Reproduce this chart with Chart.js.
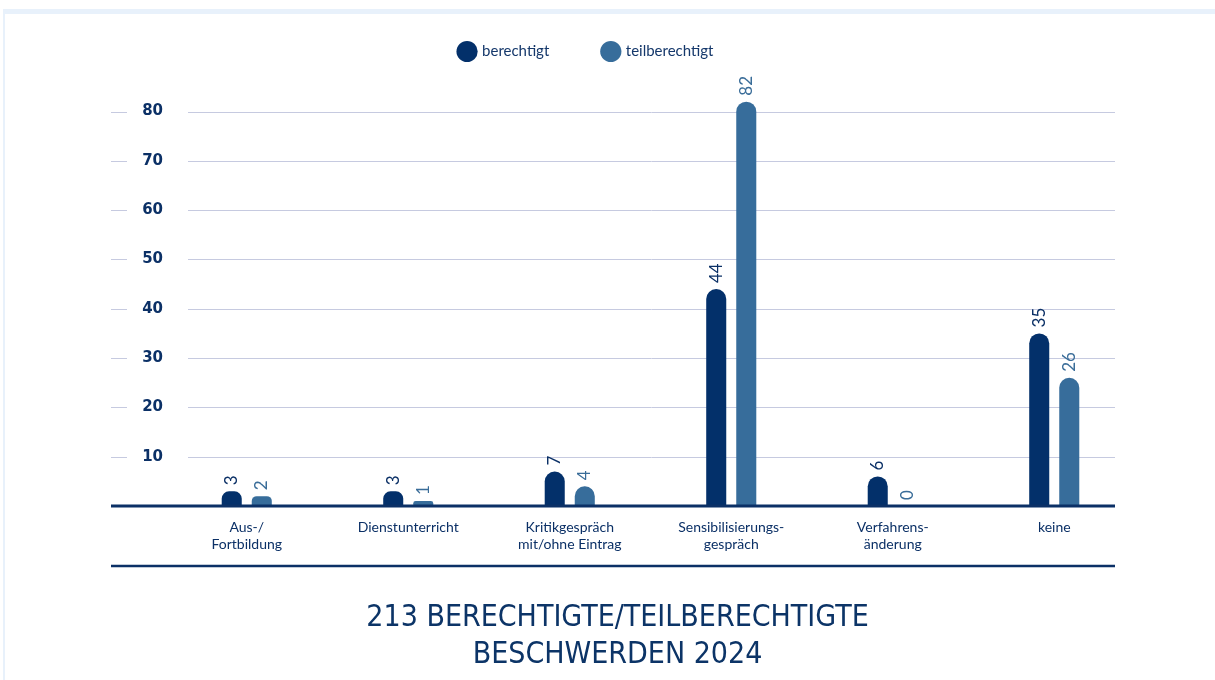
<!DOCTYPE html>
<html>
<head>
<meta charset="utf-8">
<script src="https://cdn.jsdelivr.net/npm/chart.js@4.4.1/dist/chart.umd.min.js"></script>
<style>
html, body { margin: 0; padding: 0; background: #fff; }
#wrap { position: relative; width: 1215px; height: 680px; }
#frame { position: absolute; left: 3px; top: 9px; right: 0; bottom: 0;
         border-top: 5px solid #e8f1fb; border-left: 2px solid #e8f1fb; }
canvas { position: absolute; left: 0; top: 0; }
</style>
</head>
<body>
<div id="wrap">
  <div id="frame"></div>
  <canvas id="c" width="1215" height="680"></canvas>
</div>
<script>
// data
var categories = [
    ['Aus-/', 'Fortbildung'],
    'Dienstunterricht',
    ['Kritikgespräch', 'mit/ohne Eintrag'],
    ['Sensibilisierungs-', 'gespräch'],
    ['Verfahrens-', 'änderung'],
    'keine'
];
var seriesNames = ['berechtigt', 'teilberechtigt'];
var berechtigt = [3, 3, 7, 44, 6, 35];
var teilberechtigt = [2, 1, 4, 82, 0, 26];
var yTicks = [10, 20, 30, 40, 50, 60, 70, 80];
var titleLines = ['213 BERECHTIGTE/TEILBERECHTIGTE', 'BESCHWERDEN 2024'];

var navy = '#0b3066';
var barColors = ['#03306a', '#376d9b'];
var labelColors = ['#0b3066', '#3a6d99'];

function line(ctx, x1, y1, x2, y2) {
    ctx.beginPath();
    ctx.moveTo(x1, y1);
    ctx.lineTo(x2, y2);
    ctx.stroke();
}

var decor = {
    id: 'decor',
    afterLayout: function(chart) {
        // move legend a bit left / up like the original
        var lg = chart.legend;
        lg.left -= 31; lg.right -= 31;
        lg.top -= 10; lg.bottom -= 10;
    },
    beforeDatasetsDraw: function(chart) {
        var ctx = chart.ctx, a = chart.chartArea, y = chart.scales.y;
        ctx.save();
        ctx.strokeStyle = '#c6cae0';
        ctx.lineWidth = 1;
        y.ticks.forEach(function(t) {
            var py = Math.round(y.getPixelForValue(t.value)) + 0.5;
            line(ctx, a.left + 22, py, a.right - 20, py);
            line(ctx, a.left - 55, py, a.left - 39, py);
        });
        ctx.restore();
    },
    afterDatasetsDraw: function(chart) {
        var ctx = chart.ctx, a = chart.chartArea, y = chart.scales.y;
        ctx.save();
        ctx.strokeStyle = navy;
        ctx.lineWidth = 3;
        var y0 = y.getPixelForValue(0);
        line(ctx, a.left - 55, y0, a.right - 20, y0);
        ctx.lineWidth = 2.5;
        line(ctx, a.left - 55, a.bottom + 60, a.right - 20, a.bottom + 60);

        ctx.font = '17px Lato, sans-serif';
        ctx.textAlign = 'left';
        ctx.textBaseline = 'middle';
        chart.data.datasets.forEach(function(ds, di) {
            var meta = chart.getDatasetMeta(di);
            ctx.fillStyle = labelColors[di];
            meta.data.forEach(function(bar, i) {
                ctx.save();
                ctx.translate(bar.x, bar.y - 6);
                ctx.rotate(-Math.PI / 2);
                ctx.fillText(String(ds.data[i]), 0, 0);
                ctx.restore();
            });
        });
        ctx.restore();
    }
};

var barStyle = {
    categoryPercentage: 0.372,
    barPercentage: 0.667,
    borderWidth: 0,
    borderSkipped: 'start',
    borderRadius: { topLeft: 10, topRight: 10, bottomLeft: 0, bottomRight: 0 }
};

new Chart(document.getElementById('c'), {
    type: 'bar',
    data: {
        labels: categories,
        datasets: [
            Object.assign({ label: seriesNames[0], data: berechtigt, backgroundColor: barColors[0] }, barStyle),
            Object.assign({ label: seriesNames[1], data: teilberechtigt, backgroundColor: barColors[1] }, barStyle)
        ]
    },
    options: {
        responsive: false,
        animation: false,
        layout: { padding: { left: 100, right: 80, top: 0, bottom: 0 } },
        plugins: {
            tooltip: { enabled: false },
            legend: {
                position: 'top',
                labels: {
                    usePointStyle: true,
                    pointStyle: 'circle',
                    boxWidth: 15,
                    boxHeight: 15,
                    padding: 54,
                    color: '#15386b',
                    font: { family: 'Lato, sans-serif', size: 15 }
                }
            },
            title: {
                display: true,
                position: 'bottom',
                text: titleLines,
                color: '#0c3467',
                font: { family: "'Liberation Sans Narrow', 'DejaVu Sans Condensed', sans-serif", size: 30, weight: 'normal', lineHeight: 1.233 },
                padding: { top: 34, bottom: 6 }
            }
        },
        scales: {
            x: {
                grid: { display: false },
                border: { display: false },
                ticks: {
                    color: navy,
                    font: { family: 'Lato, sans-serif', size: 14 },
                    padding: 5,
                    maxRotation: 0,
                    autoSkip: false
                },
                afterFit: function(s) { s.height = 60; }
            },
            y: {
                min: 0,
                max: 86.6,
                grid: { display: false, drawTicks: false },
                border: { display: false },
                afterBuildTicks: function(s) {
                    s.ticks = yTicks.map(function(v) { return { value: v }; });
                },
                ticks: {
                    color: navy,
                    font: { family: "'DejaVu Sans', sans-serif", size: 15, weight: 'bold' },
                    padding: 3
                },
                afterFit: function(s) { s.width = 66; }
            }
        }
    },
    plugins: [decor]
});
</script>
</body>
</html>
